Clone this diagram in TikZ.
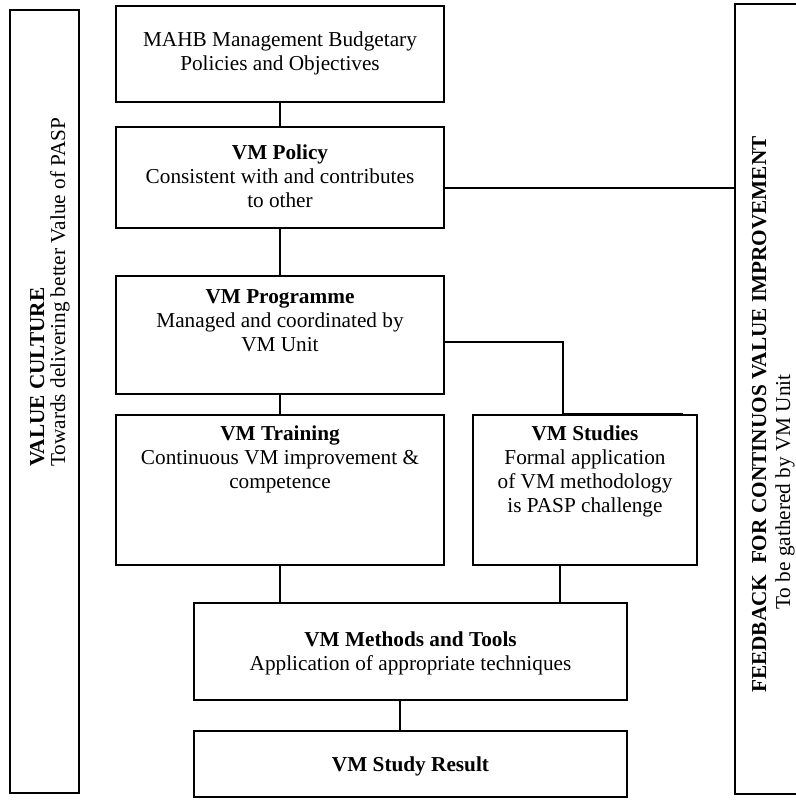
\documentclass[tikz,border=0pt]{standalone}
\usepackage{fontspec}
\setmainfont{Liberation Serif}
\usetikzlibrary{fit,calc}
\begin{document}
\begin{tikzpicture}[x=0.6pt,y=-0.6pt,
  box/.style={draw, line width=1.1pt, inner sep=0pt, rectangle},
  txt/.style={align=center, inner sep=0pt, font=\fontsize{12.75}{14.4}\selectfont},
  side/.style={inner sep=0pt, rotate=90, anchor=base west, font=\fontsize{12.75}{14.4}\selectfont},
  sidebold/.style={side, font=\fontsize{12.75}{14.4}\selectfont\bfseries},
  link/.style={line width=1pt}]
\useasboundingbox (0,0) rectangle (795,803);
\fill[white] (0,0) rectangle (795,803);

% side bars
\node[box, fit={(10,10) (79,793)}] (culture) {};
\node[box, fit={(735,4) (812,794)}] (feedback) {};
\node[sidebold] (culturehead) at (44,467) {VALUE CULTURE};
\node[side] (culturesub) at (65,467) {Towards delivering better Value of PASP};
\node[sidebold] (feedbackhead) at (766,693) {FEEDBACK\ \ FOR CONTINUOS VALUE IMPROVEMENT};
\node[side] (feedbacksub) at (790,610) {To be gathered by VM Unit};

% boxes of the main chain
\node[box, fit={(116,6) (444,102)}] (mahb) {};
\node[box, fit={(116,127) (444,228)}] (policy) {};
\node[box, fit={(116,276) (444,394)}] (programme) {};
\node[box, fit={(116,415) (444,565)}] (training) {};
\node[box, fit={(473,415) (697,565)}] (studies) {};
\node[box, fit={(194,603) (627,700)}] (methods) {};
\node[box, fit={(194,731) (627,797)}] (result) {};

% box texts
\node[txt, anchor=north] (mahbtxt) at ($(mahb.north)+(0,26.5)$) {MAHB Management Budgetary\\Policies and Objectives};
\node[txt, anchor=north] (policytxt) at ($(policy.north)+(0,18)$) {\textbf{VM Policy}\\Consistent with and contributes\\to other};
\node[txt, anchor=north] (programmetxt) at ($(programme.north)+(0,14.5)$) {\textbf{VM Programme}\\Managed and coordinated by\\VM Unit};
\node[txt, anchor=north] (trainingtxt) at ($(training.north)+(0,11.5)$) {\textbf{VM Training}\\Continuous VM improvement \&\\competence};
\node[txt, anchor=north] (studiestxt) at ($(studies.north)+(0,11.5)$) {\textbf{VM Studies}\\Formal application\\of VM methodology\\is PASP challenge};
\node[txt, anchor=north] (methodstxt) at ($(methods.north)+(0,29)$) {\textbf{VM Methods and Tools}\\Application of appropriate techniques};
\node[txt] (resulttxt) at ($(result.center)+(0,2)$) {\textbf{VM Study Result}};

% connectors
\draw[link] (mahb.south) -- (policy.north);
\draw[link] (policy.south) -- (programme.north);
\draw[link] (programme.south) -- (training.north);
\coordinate (pf) at ($(policy.east)+(0,10.5)$);
\draw[link] (pf) -- (pf -| feedback.west);
\coordinate (ps) at ($(programme.east)+(0,6.7)$);
\coordinate (sj) at ($(studies.north)+(-22,0)$);
\draw[link] (ps) -| (sj) -- ++(120,0);
\draw[link] (training.south) -- (training.south |- methods.north);
\coordinate (sm) at ($(studies.south)+(-25,0)$);
\draw[link] (sm) -- (sm |- methods.north);
\coordinate (mr) at ($(methods.south)+(-10.5,0)$);
\draw[link] (mr) -- (mr |- result.north);
\end{tikzpicture}
\end{document}
